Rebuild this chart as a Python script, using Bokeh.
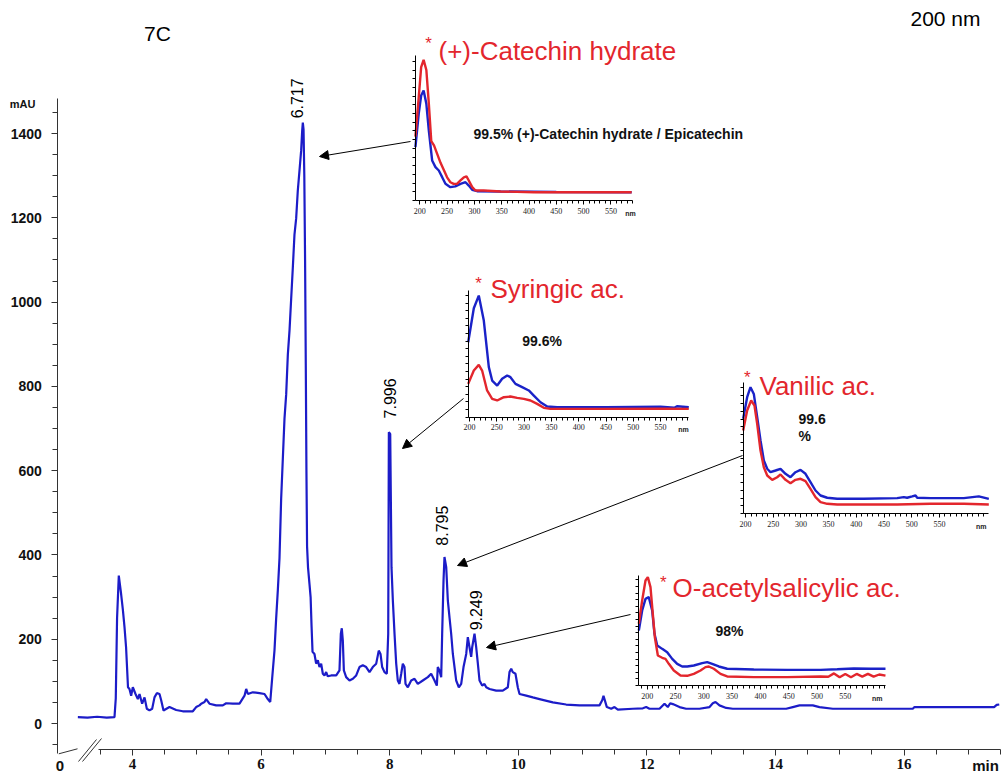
import math
from bokeh.plotting import figure
from bokeh.models import Range1d, LinearAxis, FixedTicker, SingleIntervalTicker, Arrow, NormalHead
from bokeh.core.properties import value
from bokeh.embed import file_html
from bokeh.resources import INLINE

# ---------------- data ----------------
# chromatogram at 200 nm: (time in min, signal in mAU)
chromatogram = [
    (3.15, 15), (3.30, 14), (3.45, 16), (3.60, 14), (3.72, 15), (3.74, 60), (3.76, 250),
    (3.787, 351), (3.80, 335), (3.82, 311), (3.85, 270), (3.876, 228), (3.90, 181), (3.93, 86),
    (3.953, 82), (3.979, 66), (4.005, 86), (4.047, 70), (4.083, 58), (4.109, 70), (4.150, 47),
    (4.187, 62), (4.223, 35), (4.264, 31), (4.306, 35), (4.342, 62), (4.378, 72), (4.420, 70),
    (4.446, 55), (4.482, 31), (4.575, 39), (4.679, 32), (4.782, 29), (4.938, 29), (4.990, 39),
    (5.042, 43), (5.068, 47), (5.120, 51), (5.146, 58), (5.197, 47), (5.301, 43), (5.404, 43),
    (5.457, 48), (5.560, 47), (5.664, 47), (5.742, 66), (5.768, 82), (5.794, 70), (5.871, 74),
    (5.975, 72), (6.053, 70), (6.104, 58), (6.142, 51),
    (6.172, 107), (6.208, 173), (6.234, 249), (6.260, 316), (6.286, 392), (6.312, 534),
    (6.338, 629), (6.364, 724), (6.390, 781), (6.416, 876), (6.442, 933), (6.468, 1009),
    (6.494, 1084), (6.519, 1160), (6.545, 1198), (6.571, 1265), (6.597, 1312), (6.623, 1360),
    (6.639, 1407), (6.649, 1426),
    (6.660, 1410), (6.672, 1300), (6.684, 1100), (6.695, 850), (6.705, 600), (6.715, 420),
    (6.730, 370), (6.753, 330), (6.770, 300), (6.785, 230), (6.800, 170),
    (6.830, 165), (6.856, 142), (6.882, 150), (6.908, 134), (6.934, 142), (6.960, 118),
    (6.986, 114), (7.012, 122), (7.037, 112), (7.090, 114), (7.168, 114), (7.219, 126),
    (7.240, 213), (7.255, 226), (7.271, 197), (7.287, 126), (7.323, 110), (7.375, 102),
    (7.427, 106), (7.479, 114), (7.530, 134), (7.582, 138), (7.634, 134), (7.686, 122),
    (7.737, 134), (7.790, 142), (7.830, 173), (7.857, 165), (7.883, 134), (7.919, 122),
    (7.955, 118), (7.977, 213), (7.987, 691), (8.008, 687), (8.018, 529), (8.028, 371),
    (8.049, 292), (8.075, 213), (8.101, 142), (8.126, 102), (8.152, 94), (8.179, 118),
    (8.204, 142), (8.230, 134), (8.246, 94), (8.282, 86), (8.334, 102), (8.386, 106),
    (8.437, 94), (8.515, 102), (8.593, 110), (8.645, 118), (8.697, 102), (8.733, 90),
    (8.748, 134), (8.774, 126), (8.801, 110), (8.816, 213), (8.837, 339), (8.852, 395),
    (8.879, 371), (8.904, 292), (8.930, 252), (8.956, 213), (8.982, 165), (9.008, 134),
    (9.034, 102), (9.075, 86), (9.112, 94), (9.148, 134), (9.190, 165), (9.215, 205),
    (9.241, 181), (9.267, 158), (9.283, 181), (9.319, 213), (9.345, 181), (9.371, 142),
    (9.397, 102), (9.438, 90), (9.474, 94), (9.501, 86), (9.552, 82), (9.656, 78),
    (9.759, 78), (9.837, 86), (9.863, 122), (9.890, 130), (9.914, 122), (9.956, 118),
    (9.992, 86), (10.019, 70), (10.123, 66), (10.226, 62), (10.330, 58), (10.537, 50),
    (10.744, 45), (10.952, 43), (11.159, 43), (11.263, 43), (11.305, 55), (11.325, 66),
    (11.346, 55), (11.377, 39), (11.445, 35), (11.496, 39), (11.548, 33), (11.781, 35),
    (11.937, 36), (11.989, 39), (12.040, 35), (12.196, 35), (12.274, 47), (12.325, 39),
    (12.362, 48), (12.403, 46), (12.507, 39), (12.610, 35), (12.818, 35), (12.974, 39),
    (13.025, 48), (13.067, 51), (13.129, 43), (13.233, 37), (13.336, 35), (13.855, 35),
    (14.166, 35), (14.269, 39), (14.373, 43), (14.580, 43), (14.684, 39), (14.891, 35),
    (16.135, 35), (16.162, 39), (17.40, 39), (17.44, 44), (17.48, 45),
]

# retention-time labels
peak_labels = ["6.717", "7.996", "8.795", "9.249"]
peak_label_time = [6.566, 7.997, 8.813, 9.345]
peak_label_mau = [1436, 724, 422, 221]

# UV spectra (wavelength nm, relative absorbance 0-100)
catechin_red = [(192, 44), (198, 71), (202.5, 92), (207, 97), (212, 90), (216.5, 67), (221, 41),
                (226, 38), (232, 32), (238, 26), (244, 21), (250, 16), (256, 12.6), (262, 11.5),
                (268, 11.5), (274.5, 13.8), (280.7, 16), (285.5, 16.6), (289.7, 13.8), (296, 9.2),
                (302, 6.9), (317, 6.9), (348, 6.2), (409, 5.7), (500, 5.7), (588, 5.7)]
catechin_blue = [(192, 36.8), (198, 59.8), (202.5, 72.4), (207, 75.9), (212, 66.7), (216.5, 48.3),
                 (222.6, 27.6), (228.7, 23), (234.8, 20.7), (241, 16.1), (247, 11.5), (256, 9.2),
                 (265, 9.7), (274.5, 11.5), (283.7, 12.6), (289.7, 10.3), (296, 7.4), (305, 6.4),
                 (348, 6.2), (450, 5.9), (588, 5.7)]
syringic_blue = [(197.6, 59.2), (207.9, 86), (217, 96), (226.2, 76.3), (235.4, 39.5), (241.5, 28.9),
                 (250.7, 25), (259.8, 30.3), (269, 32.9), (275, 31.6), (284.2, 26.3), (296.4, 23.7),
                 (308.6, 21.1), (317.8, 17.1), (330, 11.8), (342.3, 8.4), (360.6, 7.9), (450, 7.9),
                 (550, 8.2), (575, 7.5), (580, 8.6), (601.6, 7.9)]
syringic_red = [(197.6, 26.3), (207.9, 36.8), (217, 41.3), (223.1, 36.8), (232.2, 21.1), (241.5, 14.5),
                (250.7, 13.2), (262.9, 15.8), (275, 16.3), (287.3, 15.3), (299.5, 14.5), (311.7, 13.2),
                (323.9, 10.5), (336.1, 7.4), (348.3, 6.6), (450, 6.6), (550, 6.8), (601.6, 6.6)]
vanilic_blue = [(195.8, 72.2), (203, 88.6), (209, 96.2), (215, 91.1), (221.1, 73.4), (227.1, 55.7),
                (233.1, 40.5), (239.2, 34.2), (245.1, 31.6), (254.2, 32.9), (263.2, 34.2), (272.2, 30.4),
                (281.2, 27.8), (290.2, 31.6), (299.3, 33.4), (308.3, 30.4), (317.3, 24.1), (326.4, 17.7),
                (335.4, 13.9), (347.5, 12.2), (365.5, 11.4), (413.6, 11.4), (473.8, 11.9), (485.7, 12.7),
                (491.8, 12.2), (500.9, 13.2), (506.9, 13.9), (509.9, 12.2), (533.9, 11.9), (594.1, 11.9),
                (621.1, 13.2), (639.2, 11.4)]
vanilic_red = [(195.8, 63.3), (203, 78.5), (210.2, 86.1), (216.2, 82.3), (221.1, 68.4), (227.1, 48.1),
               (233.1, 35.4), (239.2, 29.1), (248.2, 25.8), (257.2, 27.8), (263.2, 29.9), (272.2, 25.8),
               (281.2, 23.3), (290.2, 25.8), (299.3, 26.6), (308.3, 24.8), (317.3, 19), (326.4, 12.7),
               (335.4, 8.9), (347.5, 7.6), (365.5, 7.1), (473.8, 7.1), (533.9, 7.6), (594.1, 7.6),
               (639.2, 7.1)]
acetyl_blue = [(185.2, 50), (191.1, 68.2), (197, 78.8), (202.8, 80.3), (208.8, 68.2), (212.9, 47),
               (217.7, 36.4), (226.5, 33.3), (235.3, 30.3), (244.2, 24.2), (253, 19.7), (261.8, 17.3),
               (270.7, 17.3), (282.4, 18.2), (297.2, 20.3), (306, 21.2), (314.8, 19.7), (326.5, 17.3),
               (341.3, 15.2), (388.4, 14.5), (447.4, 14.2), (506.3, 14.2), (535.7, 14.8), (565.1, 15.5),
               (594.6, 15.2), (621, 15.2)]
acetyl_red = [(185.2, 56.1), (191.1, 77.3), (197, 95.5), (201.1, 98.5), (205.8, 89.4), (209.9, 65.2),
              (213.5, 43.9), (218.8, 27.3), (226.5, 25.2), (232.3, 24.2), (238.2, 19.7), (247, 13.6),
              (258.8, 9.1), (270.7, 8.8), (282.4, 10.6), (294.2, 13.6), (303, 16.7), (308.8, 17.3),
              (317.7, 15.2), (329.5, 10.6), (341.3, 8.2), (388.4, 7.6), (447.4, 7.6), (506.3, 8.2),
              (520, 8), (530, 11), (540, 7.5), (550, 10.5), (560, 7.5), (570, 10.5), (580, 8),
              (590, 10.5), (600, 8), (610, 10), (621, 9)]

inset_titles = ["(+)-Catechin hydrate", "Syringic ac.", "Vanilic ac.", "O-acetylsalicylic ac."]
inset_purity = [["99.5% (+)-Catechin hydrate / Epicatechin"], ["99.6%"], ["99.6", "%"], ["98%"]]
inset_spectra = [(catechin_blue, catechin_red), (syringic_blue, syringic_red),
                 (vanilic_blue, vanilic_red), (acetyl_blue, acetyl_red)]
inset_tick_nm = [200, 250, 300, 350, 400, 450, 500, 550]

# ---------------- layout (page pixels) ----------------
W, H = 1005, 776
OX, OY = 0, 0
X4_PX, PX_PER_MIN = 132.0, 64.3
Y0_PX, PX_PER_MAU = 723.0, 0.4214
AXIS_T0 = 2.84      # position of y axis (broken time axis)
XAXIS_MAU = -62.0   # position of x axis line
BLUE_MAIN = "#1c1cc8"
RED = "#e3262d"
BLUE_SPEC = "#1a22c8"

def t_of(px):
    return 4 + (px - X4_PX) / PX_PER_MIN

def v_of(py):
    return (Y0_PX - py) / PX_PER_MAU

# inset geometry: page x of 200 nm, px per nm, page y of 0 and of 100, y-axis nm, x end nm,
# title / asterisk / purity text positions (page px)
insets = [
    dict(p200=419.3, k=0.546, y0=200.0, y100=55.0, yaxis=192.0, xend=590.0, nm_px=630,
         star=(428, 43), title=(438, 50), purity=(473, 133)),
    dict(p200=469.0, k=0.546, y0=416.7, y100=290.0, yaxis=197.6, xend=601.6, nm_px=683,
         star=(478, 283), title=(490, 288), purity=(521.7, 340)),
    dict(p200=745.0, k=0.554, y0=513.3, y100=381.7, yaxis=195.8, xend=639.2, nm_px=980.7,
         star=(746.7, 377), title=(759, 385), purity=(798, 418)),
    dict(p200=646.7, k=0.566, y0=685.0, y100=575.0, yaxis=185.0, xend=621.0, nm_px=876.7,
         star=(662.7, 582), title=(672, 587), purity=(715, 630)),
]

p = figure(width=W, height=H, output_backend="svg", toolbar_location=None, tools="",
           x_range=Range1d(t_of(OX), t_of(OX + W)), y_range=Range1d(v_of(OY + H), v_of(OY)),
           x_axis_location=None, y_axis_location=None, min_border=0)
p.xgrid.visible = False
p.ygrid.visible = False
p.outline_line_color = None
p.background_fill_color = "white"
p.border_fill_color = "white"

p.extra_x_ranges["pgx"] = Range1d(OX, OX + W)
p.extra_y_ranges["pgy"] = Range1d(OY + H, OY)

FONT = value("Liberation Sans")
NARROW = value("Liberation Sans Narrow, Liberation Sans")

# ---- main axes ----
xax = LinearAxis(fixed_location=XAXIS_MAU, bounds=(3.47, 17.5),
                 ticker=FixedTicker(ticks=[4, 6, 8, 10, 12, 14, 16],
                                    minor_ticks=[3.5 + 0.5 * i for i in range(29)]))
xax.axis_line_color = "#333333"
xax.major_tick_line_color = "#333333"
xax.minor_tick_line_color = "#333333"
xax.major_tick_out = 6
xax.major_tick_in = 0
xax.minor_tick_out = 5
xax.minor_tick_in = 0
xax.major_label_standoff = 3
xax.major_label_text_font = "Liberation Sans Narrow"
xax.major_label_text_font_style = "bold"
xax.major_label_text_font_size = "15px"
xax.major_label_text_color = "#111111"
p.add_layout(xax, "below")

yax = LinearAxis(fixed_location=AXIS_T0, bounds=(-72, 1483),
                 ticker=SingleIntervalTicker(interval=200, num_minor_ticks=4))
yax.axis_line_color = "#333333"
yax.major_tick_line_color = "#333333"
yax.minor_tick_line_color = "#333333"
yax.major_tick_out = 6
yax.major_tick_in = 0
yax.minor_tick_out = 5
yax.minor_tick_in = 0
yax.major_label_standoff = 10
yax.major_label_text_font = "Liberation Sans"
yax.major_label_text_font_style = "bold"
yax.major_label_text_font_size = "14px"
yax.major_label_text_color = "#111111"
p.add_layout(yax, "left")

# chromatogram
ct = [c[0] for c in chromatogram]
cv = [c[1] for c in chromatogram]
p.line(ct, cv, line_color=BLUE_MAIN, line_width=2.2)

# axis break marks (page px)
p.segment(x0=[58.3, 78, 82], y0=[753.3, 761, 761], x1=[77, 96, 101], y1=[748.3, 739, 738],
          x_range_name="pgx", y_range_name="pgy", line_color="#333333", line_width=1)

# peak labels
p.text(x=peak_label_time, y=peak_label_mau, text=peak_labels, angle=math.pi / 2,
       text_align="left", text_baseline="middle", text_font=FONT, text_font_size="16px",
       text_color="black")

# ---- insets ----
for i, (g, spectra, title, purity) in enumerate(zip(insets, inset_spectra, inset_titles, inset_purity)):
    kx, ky = f"i{i}x", f"i{i}y"
    k = g["k"]
    p.extra_x_ranges[kx] = Range1d(200 + (OX - g["p200"]) / k, 200 + (OX + W - g["p200"]) / k)
    s = (g["y0"] - g["y100"]) / 100.0
    p.extra_y_ranges[ky] = Range1d((g["y0"] - (OY + H)) / s, (g["y0"] - OY) / s)

    minor = [m for m in range(190, 650, 10) if g["yaxis"] <= m <= g["xend"]]
    ax = LinearAxis(x_range_name=kx, y_range_name=ky, fixed_location=0,
                    bounds=(g["yaxis"], g["xend"]),
                    ticker=FixedTicker(ticks=inset_tick_nm, minor_ticks=minor))
    ax.axis_line_color = "black"
    ax.major_tick_line_color = "black"
    ax.minor_tick_line_color = "black"
    ax.major_tick_out = 4
    ax.major_tick_in = 0
    ax.minor_tick_out = 3
    ax.minor_tick_in = 0
    ax.major_label_standoff = 3
    ax.major_label_text_font = "Liberation Sans Narrow"
    ax.major_label_text_font_size = "8px"
    ax.major_label_text_color = "#222222"
    p.add_layout(ax, "below")

    ay = LinearAxis(x_range_name=kx, y_range_name=ky, fixed_location=g["yaxis"],
                    bounds=(0, 100), ticker=FixedTicker(ticks=[], minor_ticks=list(range(0, 101, 6))))
    ay.axis_line_color = "black"
    ay.minor_tick_line_color = "black"
    ay.minor_tick_out = 3
    ay.minor_tick_in = 0
    p.add_layout(ay, "left")

    blue, red = spectra
    p.line([a for a, b in blue], [b for a, b in blue], x_range_name=kx, y_range_name=ky,
           line_color=BLUE_SPEC, line_width=2.4)
    p.line([a for a, b in red], [b for a, b in red], x_range_name=kx, y_range_name=ky,
           line_color=RED, line_width=2.4)

    p.text(x=[g["nm_px"]], y=[g["y0"] + 12.5], text=["nm"], x_range_name="pgx", y_range_name="pgy",
           text_align="center", text_baseline="middle", text_font=FONT, text_font_style="bold",
           text_font_size="7px", text_color="#222222")
    p.text(x=[g["star"][0]], y=[g["star"][1]], text=["*"], x_range_name="pgx", y_range_name="pgy",
           text_align="center", text_baseline="middle", text_font=FONT, text_font_size="17px",
           text_color=RED)
    p.text(x=[g["title"][0]], y=[g["title"][1]], text=[title], x_range_name="pgx", y_range_name="pgy",
           text_align="left", text_baseline="middle", text_font=FONT, text_font_size="26px",
           text_color=RED)
    px0, py0 = g["purity"]
    p.text(x=[px0] * len(purity), y=[py0 + 17 * j for j in range(len(purity))], text=purity,
           x_range_name="pgx", y_range_name="pgy", text_align="left", text_baseline="middle",
           text_font=FONT, text_font_style="bold", text_font_size="14px", text_color="#111111")

# arrows (page px: tail -> head)
arrows = [((410, 141), (319, 156)), ((463, 398), (402, 448)),
          ((742, 455), (457, 565)), ((630, 614), (486, 647))]
for (x0, y0), (x1, y1) in arrows:
    p.add_layout(Arrow(end=NormalHead(size=9, fill_color="black", line_color="black", line_width=1),
                       x_start=x0, y_start=y0, x_end=x1, y_end=y1, x_range_name="pgx",
                       y_range_name="pgy", line_color="black", line_width=1))

# other texts
p.text(x=[157, 945], y=[33, 18], text=["7C", "200 nm"], x_range_name="pgx", y_range_name="pgy",
       text_align="center", text_baseline="middle", text_font=FONT, text_font_size="21px",
       text_color="black")
p.text(x=[22], y=[103], text=["mAU"], x_range_name="pgx", y_range_name="pgy",
       text_align="center", text_baseline="middle", text_font=FONT, text_font_style="bold",
       text_font_size="11px", text_color="#111111")
p.text(x=[59.3, 985], y=[765, 765], text=["0", "min"], x_range_name="pgx", y_range_name="pgy",
       text_align="center", text_baseline="middle", text_font=NARROW, text_font_style="bold",
       text_font_size="15px", text_color="#111111")

open("out.html", "w").write(file_html(p, INLINE))
